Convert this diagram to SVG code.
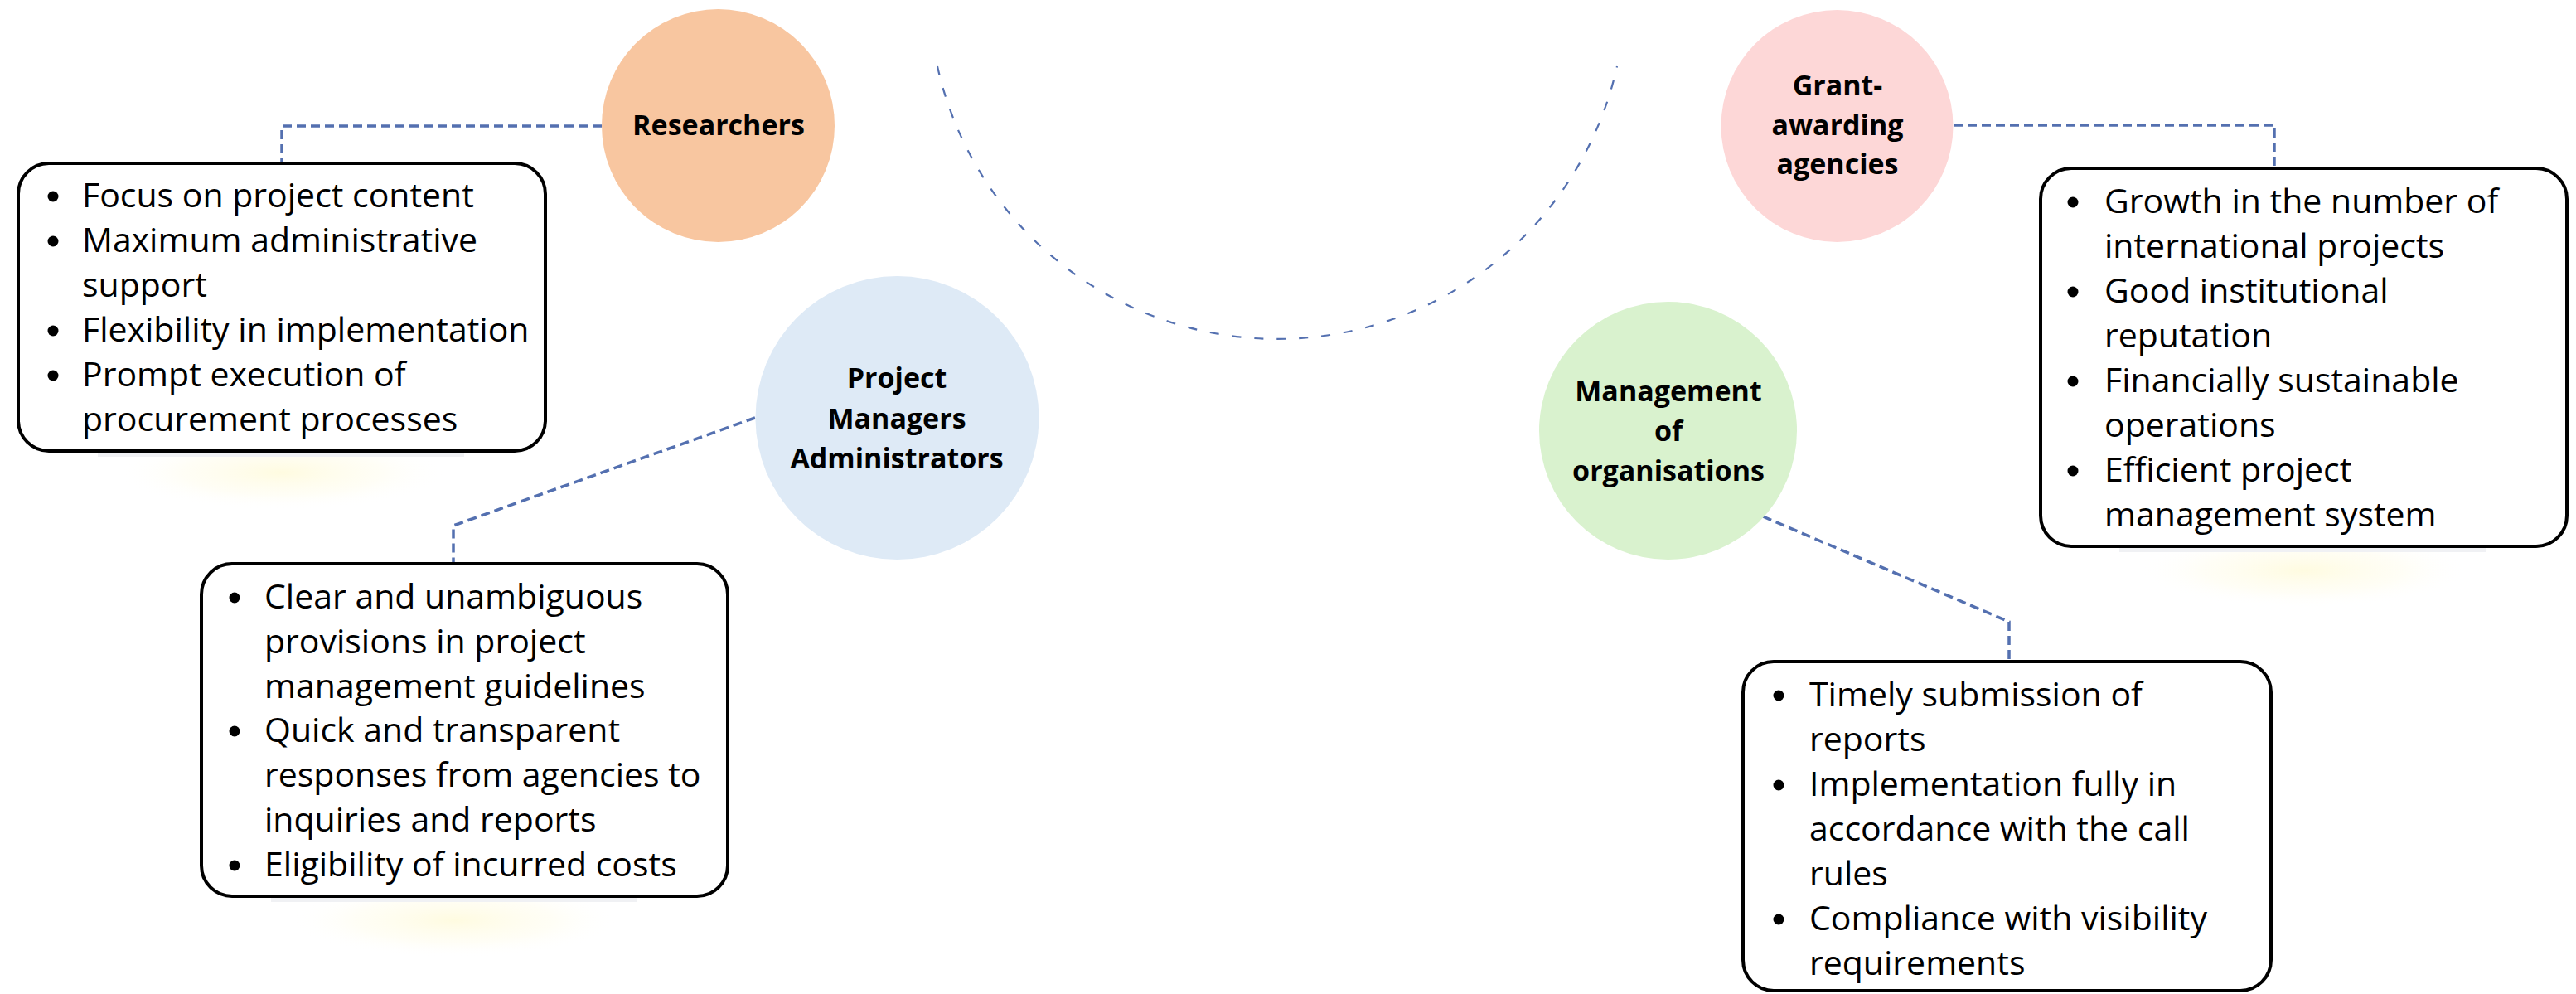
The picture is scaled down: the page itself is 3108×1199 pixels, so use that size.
<svg xmlns="http://www.w3.org/2000/svg" width="3108" height="1199" viewBox="0 0 3108 1199">
  <style>
    .bg { fill: #ffffff; }
    .box { fill: #ffffff; stroke: #000000; stroke-width: 4; }
    .lbl { font-family: "Open Sans", "Noto Sans", "DejaVu Sans", sans-serif; font-weight: 700; font-size: 34px; fill: #000000; text-anchor: middle; }
    .txt { font-family: "Open Sans", "Noto Sans", "DejaVu Sans", sans-serif; font-weight: 400; font-size: 41px; fill: #000000; }
    .bul { fill: #000000; }
    .conn { fill: none; stroke: #5470B0; stroke-width: 3.5; stroke-dasharray: 11 6; }
    .arc { fill: none; stroke: #5470B0; stroke-width: 2.2; stroke-dasharray: 11 16; }
    .bar { fill: #F0F1F4; }
  </style>
  <defs>
    <radialGradient id="glow" cx="0.5" cy="0.5" r="0.5">
      <stop offset="0" stop-color="#FFF9CC" stop-opacity="0.6"/>
      <stop offset="0.6" stop-color="#FFFBE0" stop-opacity="0.3"/>
      <stop offset="1" stop-color="#FFFFFF" stop-opacity="0"/>
    </radialGradient>
  </defs>
  <rect class="bg" x="0" y="0" width="3108" height="1199"/>

  <g id="glows">
    <ellipse cx="340" cy="570" rx="200" ry="45" fill="url(#glow)"/>
    <rect class="bar" x="118" y="544" width="442" height="7"/>
    <ellipse cx="548" cy="1110" rx="200" ry="45" fill="url(#glow)"/>
    <rect class="bar" x="327" y="1081" width="441" height="7"/>
    <ellipse cx="2779" cy="688" rx="200" ry="45" fill="url(#glow)"/>
    <rect class="bar" x="2557" y="659" width="443" height="7"/>
  </g>

  <g id="arc">
    <path class="arc" d="M 1131 80 A 420 420 0 0 0 1951 80"/>
  </g>

  <g id="connectors">
    <path class="conn" d="M 726 152 L 340 152 L 340 196"/>
    <path class="conn" d="M 2357 151 L 2744 151 L 2744 202"/>
    <path class="conn" d="M 911 504 L 547 634 L 547 679"/>
    <path class="conn" d="M 2127 623 L 2424 750 L 2424 797"/>
  </g>

  <g id="researchers">
    <circle cx="866.5" cy="151.5" r="140.5" fill="#F8C6A0"/>
    <text class="lbl" x="867" y="163">Researchers</text>
  </g>

  <g id="project-managers">
    <circle cx="1082.5" cy="504" r="171" fill="#DEEAF6"/>
    <text class="lbl" x="1082" y="468">Project</text>
    <text class="lbl" x="1082" y="517">Managers</text>
    <text class="lbl" x="1082" y="565">Administrators</text>
  </g>

  <g id="grant-agencies">
    <circle cx="2216.5" cy="152" r="140" fill="#FDD7D7"/>
    <text class="lbl" x="2217" y="115">Grant-</text>
    <text class="lbl" x="2217" y="163">awarding</text>
    <text class="lbl" x="2217" y="210">agencies</text>
  </g>

  <g id="management">
    <circle cx="2012.5" cy="519.5" r="155.5" fill="#D9F2CE"/>
    <text class="lbl" x="2013" y="484">Management</text>
    <text class="lbl" x="2013" y="532">of</text>
    <text class="lbl" x="2013" y="580">organisations</text>
  </g>

  <g id="box-researchers">
    <rect class="box" x="22" y="197" width="636" height="347" rx="37" ry="37"/>
    <circle class="bul" cx="64" cy="237" r="6.5"/>
    <circle class="bul" cx="64" cy="291" r="6.5"/>
    <circle class="bul" cx="64" cy="399" r="6.5"/>
    <circle class="bul" cx="64" cy="453" r="6.5"/>
    <text class="txt" x="99" y="250">Focus on project content</text>
    <text class="txt" x="99" y="304">Maximum administrative</text>
    <text class="txt" x="99" y="358">support</text>
    <text class="txt" x="99" y="412">Flexibility in implementation</text>
    <text class="txt" x="99" y="466">Prompt execution of</text>
    <text class="txt" x="99" y="520">procurement processes</text>
  </g>

  <g id="box-project-managers">
    <rect class="box" x="243" y="680" width="635" height="401" rx="37" ry="37"/>
    <circle class="bul" cx="283" cy="721" r="6.5"/>
    <circle class="bul" cx="283" cy="882" r="6.5"/>
    <circle class="bul" cx="283" cy="1044" r="6.5"/>
    <text class="txt" x="319" y="734">Clear and unambiguous</text>
    <text class="txt" x="319" y="788">provisions in project</text>
    <text class="txt" x="319" y="842">management guidelines</text>
    <text class="txt" x="319" y="895">Quick and transparent</text>
    <text class="txt" x="319" y="949">responses from agencies to</text>
    <text class="txt" x="319" y="1003">inquiries and reports</text>
    <text class="txt" x="319" y="1057">Eligibility of incurred costs</text>
  </g>

  <g id="box-grant-agencies">
    <rect class="box" x="2462" y="203" width="635" height="456" rx="37" ry="37"/>
    <circle class="bul" cx="2501" cy="244" r="6.5"/>
    <circle class="bul" cx="2501" cy="352" r="6.5"/>
    <circle class="bul" cx="2501" cy="460" r="6.5"/>
    <circle class="bul" cx="2501" cy="568" r="6.5"/>
    <text class="txt" x="2539" y="257">Growth in the number of</text>
    <text class="txt" x="2539" y="311">international projects</text>
    <text class="txt" x="2539" y="365">Good institutional</text>
    <text class="txt" x="2539" y="419">reputation</text>
    <text class="txt" x="2539" y="473">Financially sustainable</text>
    <text class="txt" x="2539" y="527">operations</text>
    <text class="txt" x="2539" y="581">Efficient project</text>
    <text class="txt" x="2539" y="635">management system</text>
  </g>

  <g id="box-management">
    <rect class="box" x="2103" y="798" width="637" height="397" rx="37" ry="37"/>
    <circle class="bul" cx="2146" cy="839" r="6.5"/>
    <circle class="bul" cx="2146" cy="947" r="6.5"/>
    <circle class="bul" cx="2146" cy="1109" r="6.5"/>
    <text class="txt" x="2183" y="852">Timely submission of</text>
    <text class="txt" x="2183" y="906">reports</text>
    <text class="txt" x="2183" y="960">Implementation fully in</text>
    <text class="txt" x="2183" y="1014">accordance with the call</text>
    <text class="txt" x="2183" y="1068">rules</text>
    <text class="txt" x="2183" y="1122">Compliance with visibility</text>
    <text class="txt" x="2183" y="1176">requirements</text>
  </g>
</svg>
